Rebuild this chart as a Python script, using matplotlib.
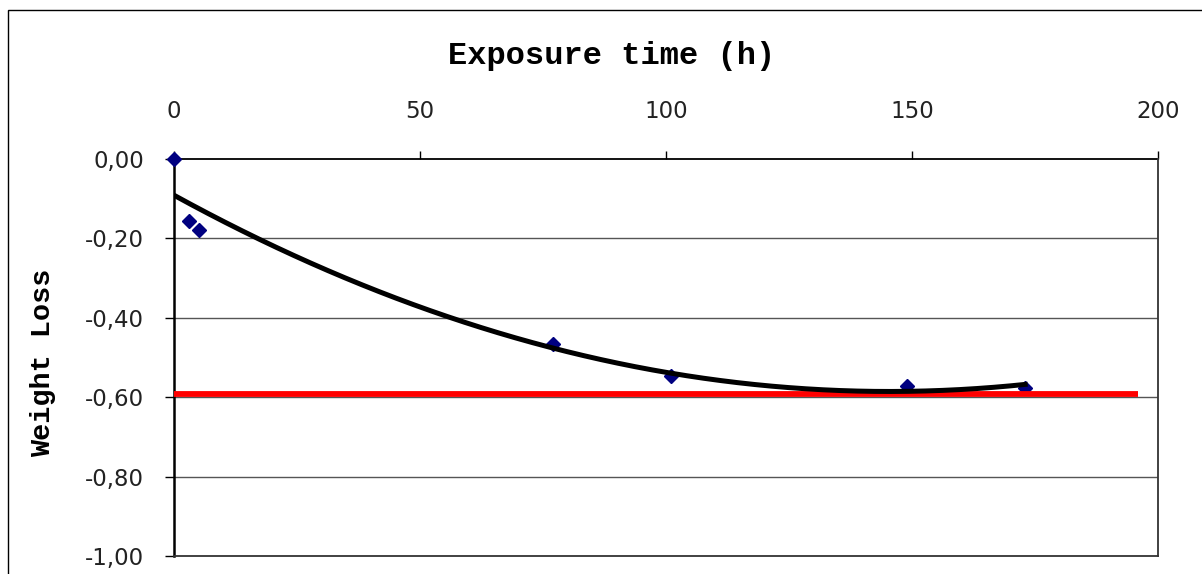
import numpy as np
import matplotlib
matplotlib.use("Agg")
import matplotlib.pyplot as plt
from matplotlib.patches import Rectangle
from matplotlib.ticker import FixedLocator, FuncFormatter

# ---- data ----
hours = [0, 3, 5, 77, 101, 149, 173]
weight_loss = [0.00, -0.155, -0.179, -0.466, -0.547, -0.572, -0.577]
limit_value = -0.593
limit_x = [0, 196]
x_ticks = [0, 50, 100, 150, 200]
y_ticks = [0.0, -0.2, -0.4, -0.6, -0.8, -1.0]
title = "Exposure time (h)"
ylabel = "Weight Loss"

W, H, DPI = 1202, 574, 100
fig = plt.figure(figsize=(W / DPI, H / DPI), dpi=DPI)
fig.patch.set_facecolor("white")

# outer chart border (cropped at right and bottom in reference)
fig.patches.append(Rectangle((8 / W, -0.1), 1.2, 1 - 10 / H + 0.1,
                             transform=fig.transFigure, fill=False,
                             edgecolor="black", linewidth=1.0))

left, right = 174 / W, 1158 / W
top, bottom = 1 - 159 / H, 1 - 556 / H
ax = fig.add_axes([left, bottom, right - left, top - bottom])
ax.set_xlim(0, 200)
ax.set_ylim(-1.0, 0.0)

# gridlines
for yv in y_ticks[1:-1]:
    ax.axhline(yv, color="#555555", linewidth=1.0, zorder=1)

# data points
ax.plot(hours, weight_loss, linestyle="none", marker="D", markersize=7.5,
        color="#000080", zorder=3, clip_on=False)

# limit line
ax.plot(limit_x, [limit_value, limit_value], color="#ff0000",
        linewidth=4.2, solid_capstyle="butt", zorder=4)

# polynomial (order 2) trendline computed from the data
coef = np.polyfit(hours, weight_loss, 2)
xs = np.linspace(min(hours), max(hours), 300)
ax.plot(xs, np.polyval(coef, xs), color="black", linewidth=3.6, zorder=5)

# spines
ax.spines["top"].set_color("black")
ax.spines["top"].set_linewidth(1.3)
ax.spines["left"].set_color("black")
ax.spines["left"].set_linewidth(1.8)
ax.spines["right"].set_color("#333333")
ax.spines["right"].set_linewidth(1.3)
ax.spines["bottom"].set_color("#333333")
ax.spines["bottom"].set_linewidth(1.3)
ax.spines["top"].set_zorder(2)
ax.spines["left"].set_zorder(2)

# ticks
ax.xaxis.set_ticks_position("top")
ax.xaxis.set_label_position("top")
ax.xaxis.set_major_locator(FixedLocator(x_ticks))
ax.yaxis.set_major_locator(FixedLocator(y_ticks))
ax.yaxis.set_major_formatter(FuncFormatter(lambda v, p: f"{v:.2f}".replace(".", ",").replace("-0,00", "0,00")))
ax.tick_params(axis="x", direction="out", length=6, width=1, colors="black",
               pad=20, labelsize=16.5, labelcolor="#222222")
ax.tick_params(axis="y", direction="out", length=6.5, width=1, colors="black",
               pad=15, labelsize=16.5, labelcolor="#222222")
for lab in ax.get_xticklabels() + ax.get_yticklabels():
    lab.set_fontfamily("DejaVu Sans")

# title and y label
fig.text(612 / W, 1 - 56 / H, title, ha="center", va="center",
         fontsize=23, fontweight="bold", family="Liberation Mono", color="black")
fig.text(43 / W, 1 - 363 / H, ylabel, ha="center", va="center", rotation=90,
         fontsize=20.5, fontweight="bold", family="Liberation Mono", color="black")

fig.savefig("out.png", dpi=DPI, facecolor="white")
